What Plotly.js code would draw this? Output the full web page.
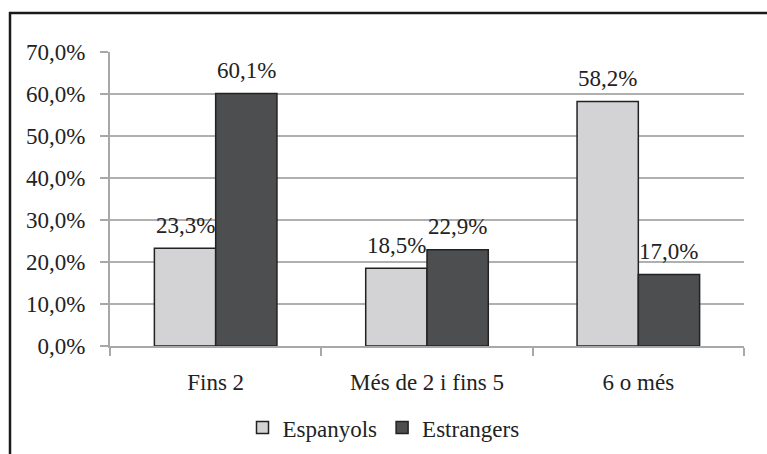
<!DOCTYPE html>
<html>
<head>
<meta charset="utf-8">
<script src="https://cdn.plot.ly/plotly-3.0.1.min.js"></script>
<style>
html,body{margin:0;padding:0;background:#fff;}
</style>
</head>
<body>
<div id="chart" style="width:767px;height:454px"></div>
<script>
var categories = ["Fins 2", "Més de 2 i fins 5", "6 o més"];
var seriesNames = ["Espanyols", "Estrangers"];
var espanyols = [23.3, 18.5, 58.2];
var estrangers = [60.1, 22.9, 17.0];
var yTickVals = [0, 10, 20, 30, 40, 50, 60, 70];

var W = 767, H = 454;
var M = {l: 110, r: 23, t: 52, b: 108};
var pw = W - M.l - M.r, ph = H - M.t - M.b;
var bargap = 0.42;
var off = (1 - bargap) / 4;
var FONT = "Liberation Serif";
var fs = 23;

var traces = [
  {type: "bar", name: seriesNames[0], x: categories, y: espanyols,
   marker: {color: "#d3d3d5", line: {color: "#222222", width: 1.5}}, hoverinfo: "none"},
  {type: "bar", name: seriesNames[1], x: categories, y: estrangers,
   marker: {color: "#4d4e50", line: {color: "#222222", width: 1.5}}, hoverinfo: "none"}
];

var annotations = [];
[espanyols, estrangers].forEach(function (arr, s) {
  arr.forEach(function (v, i) {
    annotations.push({
      x: i + (s === 0 ? -off : off), y: v, xref: "x", yref: "y",
      text: v.toFixed(1).replace(".", ",") + "%",
      showarrow: false, yanchor: "middle", yshift: 23,
      font: {family: FONT, size: fs, color: "#222"}
    });
  });
});

function px2paperX(p) { return (p - M.l) / pw; }
function px2paperY(p) { return 1 - (p - M.t) / ph; }

var shapes = [
  {type: "line", xref: "paper", yref: "paper",
   x0: px2paperX(9), x1: px2paperX(770), y0: px2paperY(13), y1: px2paperY(13),
   line: {color: "#1a1a1a", width: 2.5}},
  {type: "line", xref: "paper", yref: "paper",
   x0: px2paperX(10), x1: px2paperX(10), y0: px2paperY(12), y1: px2paperY(460),
   line: {color: "#1a1a1a", width: 2.5}}
];

var layout = {
  width: W, height: H,
  margin: M,
  paper_bgcolor: "#ffffff", plot_bgcolor: "#ffffff",
  barmode: "group", bargap: bargap, bargroupgap: 0,
  font: {family: FONT, size: fs, color: "#222"},
  showlegend: true,
  legend: {orientation: "h", xref: "container", yref: "container",
           x: 0.5, xanchor: "center", y: 0.058, yanchor: "middle",
           font: {family: FONT, size: fs, color: "#222"}, traceorder: "normal"},
  xaxis: {type: "category", showgrid: false, showline: true, linecolor: "#a8a8a8", linewidth: 2,
          ticks: "outside", tickson: "boundaries", ticklen: 8, tickcolor: "#a8a8a8", tickwidth: 2,
          ticklabelstandoff: 14,
          tickfont: {family: FONT, size: fs, color: "#222"}, fixedrange: true},
  yaxis: {range: [0, 70], tickvals: yTickVals, ticktext: yTickVals.map(function (v) { return v.toFixed(1).replace(".", ",") + "%"; }),
          showgrid: true, gridcolor: "#b0b0b0", gridwidth: 2,
          showline: true, linecolor: "#a8a8a8", linewidth: 2, zeroline: false,
          ticks: "outside", ticklen: 8, tickcolor: "#a8a8a8", tickwidth: 2,
          ticklabelstandoff: 10,
          tickfont: {family: FONT, size: fs, color: "#222"}, fixedrange: true},
  annotations: annotations,
  shapes: shapes
};

Plotly.newPlot("chart", traces, layout, {displayModeBar: false, staticPlot: true});
</script>
</body>
</html>
